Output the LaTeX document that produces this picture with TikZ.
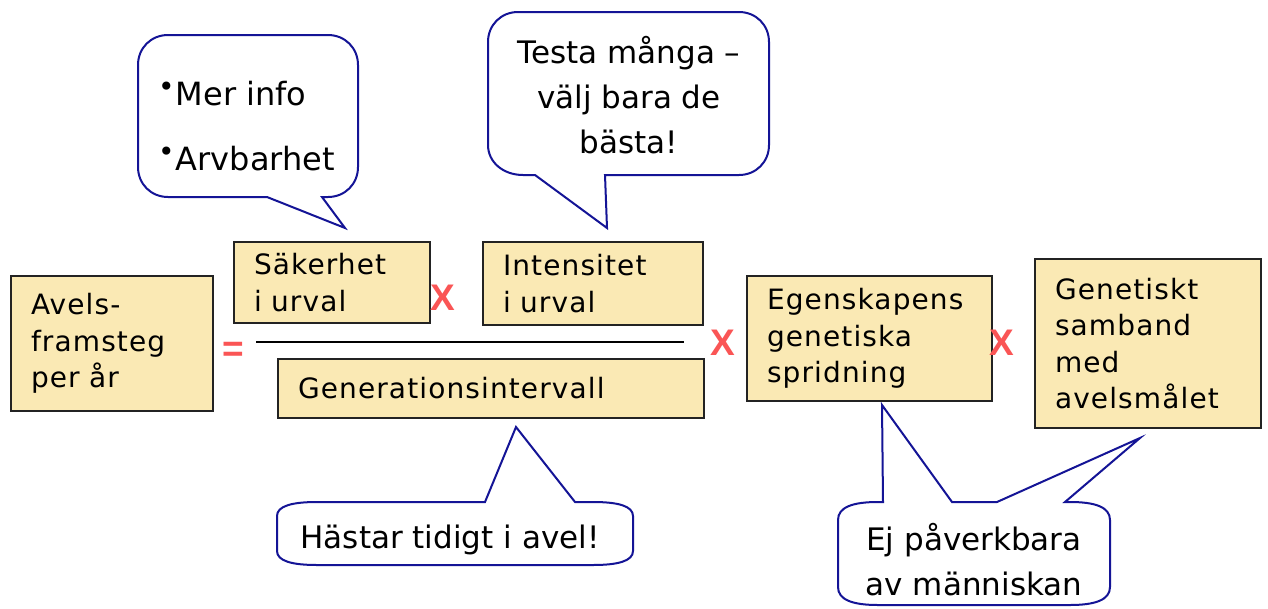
\documentclass[tikz,border=0pt]{standalone}
\usepackage{fontspec}
\setmainfont{DejaVu Sans}
\newfontfamily\boxfont[LetterSpace=4]{DejaVu Sans}
\newfontfamily\opfont{Liberation Sans}
\definecolor{boxfill}{RGB}{250,233,180}
\definecolor{boxline}{RGB}{35,35,35}
\definecolor{bubline}{RGB}{20,20,150}
\definecolor{opred}{RGB}{250,85,85}
\begin{document}
\begin{tikzpicture}[x=1pt,y=-1pt,
  factor/.style={draw=boxline, line width=2pt, fill=boxfill, anchor=north west,
    inner xsep=20pt, inner ysep=0pt, align=left,
    font=\boxfont\fontsize{28}{36.5}\selectfont},
  bubble/.style={draw=bubline, line width=2pt, fill=white, line join=miter},
  bubtext/.style={inner sep=0pt, font=\fontsize{31}{45}\selectfont},
  op/.style={text=opred, font=\opfont\bfseries\fontsize{37}{37}\selectfont, inner sep=0pt}
]
\fill[white] (0,0) rectangle (1268,608);
\useasboundingbox (0,0) rectangle (1268,608);

% factor boxes
\node[factor, minimum height=135pt, text width=162pt] (avels) at (10,275) {Avels-\\framsteg\\per år};
\node[factor, minimum height=81pt, text width=156pt] (sak) at (233,241) {Säkerhet\\i urval};
\node[factor, minimum height=83pt, text width=180pt] (int) at (482,241) {Intensitet\\i urval};
\node[factor, minimum height=59pt, text width=386pt] (gen) at (277,358) {Generationsintervall};
\node[factor, minimum height=125pt, text width=205pt] (egen) at (746,275) {Egenskapens\\genetiska\\spridning};
\node[factor, minimum height=169pt, text width=186pt] (genet) at (1034,258) {Genetiskt\\samband\\med\\avelsmålet};

% operators
\node[op] (eq) at (233,352) {=};
\node[op] (x1) at (443,298) {X};
\node[op] (x2) at (723,343) {X};
\node[op] (x3) at (1002,343) {X};

% fraction bar
\coordinate (fracL) at (256,342);
\coordinate (fracR) at (684,342);
\draw[line width=2pt, black] (fracL) -- (fracR);

% bubble tips
\coordinate (tip1) at (345,228);
\coordinate (tip2) at (607,228);
\coordinate (tip3) at (516,427);
\coordinate (tip4a) at (882,405);
\coordinate (tip4b) at (1140,438);

% bubble 1
\draw[bubble] (168,35) -- (328,35) .. controls (345,35) and (358,48) .. (358,65)
  -- (358,167) .. controls (358,184) and (345,197) .. (328,197)
  -- (322,197) -- (tip1) -- (267,197) -- (168,197)
  .. controls (151,197) and (138,184) .. (138,167) -- (138,65)
  .. controls (138,48) and (151,35) .. (168,35) -- cycle;
\node[bubtext, anchor=north west, align=left, font=\fontsize{32}{65}\selectfont] (b1) at (158,81)
  {\raisebox{9pt}{\fontsize{28}{28}\selectfont •}\kern1pt Mer info\\
   \raisebox{9pt}{\fontsize{28}{28}\selectfont •}\kern1pt Arvbarhet};

% bubble 2
\draw[bubble] (518,12) -- (739,12) .. controls (756,12) and (769,25) .. (769,42)
  -- (769,145) .. controls (769,162) and (756,175) .. (739,175)
  -- (605,175) -- (tip2) -- (535,175) -- (523,175)
  .. controls (503,175) and (488,162) .. (488,145) -- (488,42)
  .. controls (488,25) and (501,12) .. (518,12) -- cycle;
\node[bubtext, anchor=north, align=center] (b2) at (629,36)
  {Testa många –\\välj bara de\\bästa!};

% bubble 3
\draw[bubble] (317,502) -- (485,502) -- (tip3) -- (575,502) -- (593,502)
  .. controls (618,502) and (633,506) .. (633,516) -- (633,551)
  .. controls (633,561) and (618,565) .. (593,565) -- (317,565)
  .. controls (292,565) and (277,561) .. (277,551) -- (277,516)
  .. controls (277,506) and (292,502) .. (317,502) -- cycle;
\node[bubtext, anchor=base] (b3) at (450,548) {Hästar tidigt i avel!};

% bubble 4
\draw[bubble] (878,502) -- (883,502) -- (tip4a) -- (952,502) -- (997,502)
  -- (tip4b) -- (1065,502) -- (1070,502)
  .. controls (1095,502) and (1110,507) .. (1110,520) -- (1110,587)
  .. controls (1110,600) and (1095,605) .. (1070,605) -- (878,605)
  .. controls (853,605) and (838,600) .. (838,587) -- (838,520)
  .. controls (838,507) and (853,502) .. (878,502) -- cycle;
\node[bubtext, anchor=north, align=center] (b4) at (974,523)
  {Ej påverkbara\\av människan};
\end{tikzpicture}
\end{document}
